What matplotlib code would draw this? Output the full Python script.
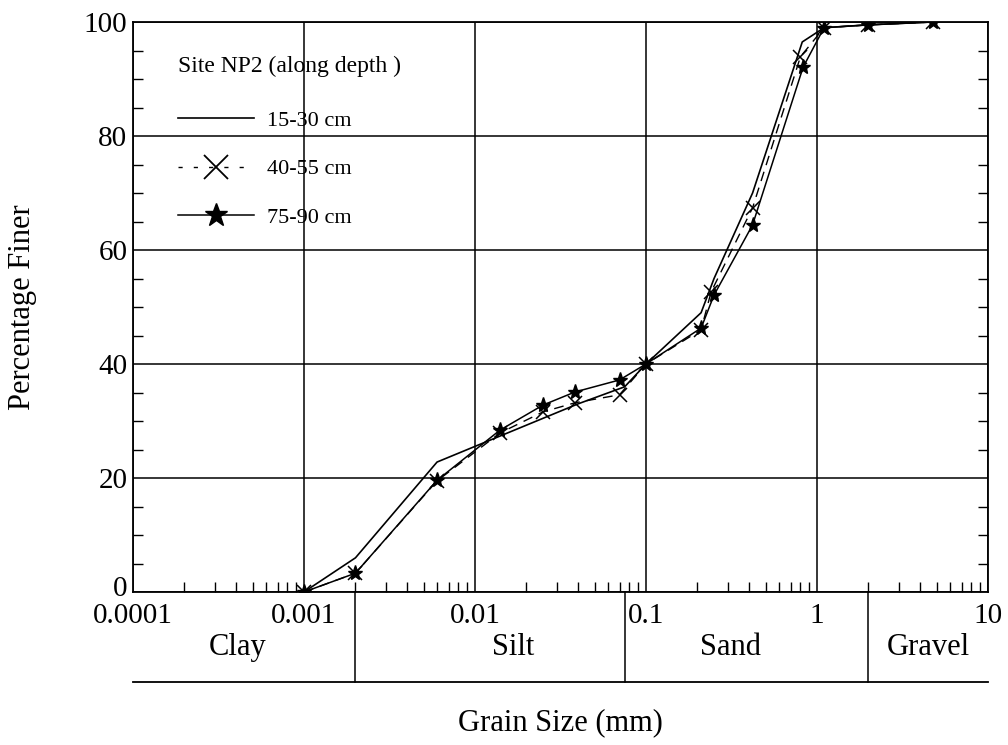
import numpy as np
import matplotlib
matplotlib.use("Agg")
import matplotlib.pyplot as plt
from matplotlib.lines import Line2D
from matplotlib.ticker import FixedLocator, LogLocator, MultipleLocator, NullFormatter
import matplotlib.transforms as mtransforms

plt.rcParams['font.family'] = ['Liberation Serif', 'DejaVu Serif']

# Grain size curves, site NP2 (grain size in mm, percentage finer)
size_15_30 = [0.001, 0.002, 0.006, 0.04, 0.075, 0.1, 0.21, 0.25, 0.42, 0.82, 1.1, 2.0, 4.75]
finer_15_30 = [0, 6.0, 22.8, 33.0, 36.0, 40.0, 49.0, 55.0, 70.0, 96.5, 99.0, 99.5, 100]

size_40_55 = [0.001, 0.002, 0.006, 0.014, 0.025, 0.0385, 0.07, 0.1, 0.21, 0.24, 0.42, 0.8, 1.1, 2.0, 4.75]
finer_40_55 = [0, 3.3, 19.5, 27.9, 31.6, 33.2, 34.6, 40.0, 46.0, 52.6, 67.4, 93.9, 99.0, 99.5, 100]

size_75_90 = [0.001, 0.002, 0.006, 0.014, 0.025, 0.0385, 0.07, 0.1, 0.21, 0.25, 0.42, 0.83, 1.1, 2.0, 4.75]
finer_75_90 = [0, 3.3, 19.6, 28.4, 32.8, 35.1, 37.2, 40.0, 46.3, 52.1, 64.4, 92.1, 99.0, 99.5, 100]

# Soil classes along the size axis
class_names = ["Clay", "Silt", "Sand", "Gravel"]
class_bounds = [0.0001, 0.002, 0.075, 2.0, 10]
x_ticks = [0.0001, 0.001, 0.01, 0.1, 1, 10]
x_tick_labels = ["0.0001", "0.001", "0.01", "0.1", "1", "10"]
y_ticks = [0, 20, 40, 60, 80, 100]

fig = plt.figure(figsize=(10.08, 7.45), dpi=100)
ax = fig.add_axes([133 / 1008, 1 - 592 / 745, 855 / 1008, 570 / 745])

ax.plot(size_15_30, finer_15_30, color='black', lw=1.2)
l2, = ax.plot(size_40_55, finer_40_55, color='black', lw=1.0, ls='--',
              marker='x', ms=10, mew=1.1)
l2.set_dashes((7, 5))
ax.plot(size_75_90, finer_75_90, color='black', lw=1.1,
        marker='*', ms=11)

ax.set_xscale('log')
ax.set_xlim(0.0001, 10)
ax.set_ylim(0, 100)

ax.xaxis.set_major_locator(FixedLocator(x_ticks))
ax.set_xticklabels(x_tick_labels)
ax.xaxis.set_minor_locator(LogLocator(base=10, subs=np.arange(2, 10)))
ax.xaxis.set_minor_formatter(NullFormatter())
ax.set_yticks(y_ticks)
ax.yaxis.set_minor_locator(MultipleLocator(5))

ax.grid(True, which='major', color='black', lw=1.1)
ax.tick_params(which='both', direction='in', labelsize=21, right=True, top=False)
ax.tick_params(which='major', length=0, pad=4)
ax.tick_params(axis='x', which='major', pad=8)
ax.tick_params(which='minor', length=7, width=1.0)
for s in ax.spines.values():
    s.set_linewidth(1.3)
# lift the "0" a little, as in the original
ax.get_yticklabels()[0].set_transform(
    ax.get_yticklabels()[0].get_transform()
    + mtransforms.ScaledTranslation(0, 4 / 72, fig.dpi_scale_trans))

# classification strip below the axis
trans = mtransforms.blended_transform_factory(ax.transData, ax.transAxes)
strip_bottom = -0.158
ax.plot([class_bounds[0], class_bounds[-1]], [strip_bottom, strip_bottom],
        color='black', lw=1.3, transform=trans, clip_on=False)
for b in class_bounds[1:-1]:
    ax.plot([b, b], [0, strip_bottom], color='black', lw=1.1,
            transform=trans, clip_on=False)
label_x = [0.00041, 0.0167, 0.31, 4.5]
for name, lx in zip(class_names, label_x):
    ax.text(lx, -0.098, name, transform=trans, ha='center', va='center', fontsize=22)

ax.set_xlabel("Grain Size (mm)", fontsize=22)
ax.xaxis.set_label_coords(0.5, -0.23)
ax.xaxis.label.set_va('center')
ax.set_ylabel("Percentage Finer", fontsize=22)
ax.yaxis.set_label_coords(-0.129, 0.5)
ax.yaxis.label.set_va('center')

handles = [
    Line2D([], [], color='black', lw=1.2),
    Line2D([], [], color='black', lw=1.0, ls=(0, (3, 8)), marker='x', ms=17, mew=1.3),
    Line2D([], [], color='black', lw=1.1, marker='*', ms=17),
]
leg = ax.legend(handles, ["15-30 cm", "40-55 cm", "75-90 cm"],
                title="Site NP2 (along depth )", loc='upper left',
                bbox_to_anchor=(0.04, 0.96), frameon=False, borderpad=0,
                fontsize=16, title_fontsize=17, alignment='left',
                handlelength=3.4, handletextpad=0.6, labelspacing=1.25)
leg._legend_box.sep = 24

fig.savefig("out.png", dpi=100)
